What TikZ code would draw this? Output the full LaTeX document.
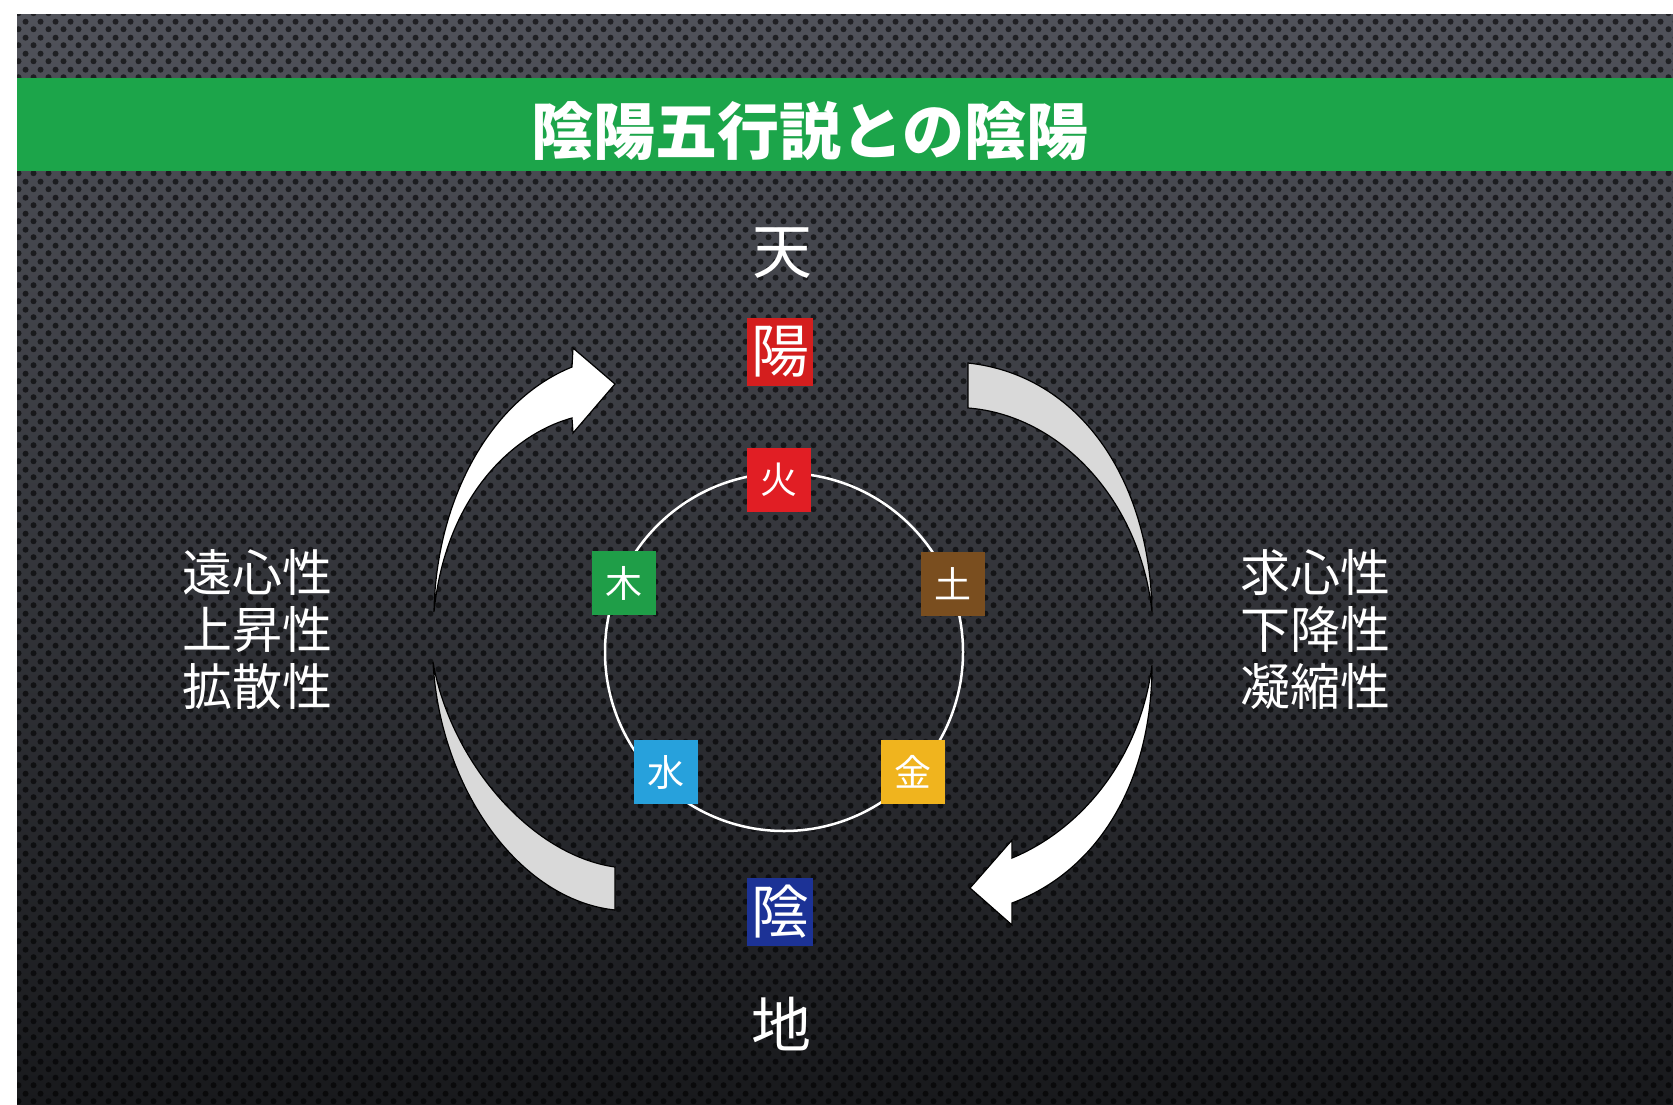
\documentclass[tikz,border=0pt]{standalone}
\usepackage{fontspec}
\newfontfamily\cjk{Noto Sans CJK JP}
\usetikzlibrary{patterns}

\pgfdeclarepatternformonly{metaldots}{\pgfpointorigin}{\pgfpoint{15pt}{16pt}}{\pgfpoint{15pt}{16pt}}{%
  \pgfpathcircle{\pgfpoint{3.75pt}{4pt}}{3.2pt}%
  \pgfpathcircle{\pgfpoint{11.25pt}{12pt}}{3.2pt}%
  \pgfusepath{fill}%
}

\definecolor{bgtop}{HTML}{50525A}
\definecolor{bgmid}{HTML}{383A41}
\definecolor{bgbot}{HTML}{18191C}
\definecolor{bandgreen}{HTML}{1CA54A}
\definecolor{yangred}{HTML}{D41E1E}
\definecolor{firered}{HTML}{E11E24}
\definecolor{woodgreen}{HTML}{1F9E48}
\definecolor{earthbrown}{HTML}{7A4E1F}
\definecolor{waterblue}{HTML}{27A1DC}
\definecolor{metalgold}{HTML}{F0B41E}
\definecolor{yinblue}{HTML}{1C3296}
\definecolor{arcgray}{HTML}{D9D9D9}

\begin{document}
\begin{tikzpicture}[x=1pt,y=-1pt,
  elembox/.style={minimum width=64, minimum height=64, inner sep=0pt, text=white,
    font=\cjk\fontsize{37}{40}\selectfont},
  bigbox/.style={minimum width=66, minimum height=68, inner sep=0pt, text=white,
    font=\cjk\fontsize{58}{62}\selectfont},
  bigchar/.style={inner sep=0pt, text=white, font=\cjk\fontsize{60}{64}\selectfont},
  sidetext/.style={inner sep=0pt, text=white, align=left,
    font=\cjk\fontsize{50}{57}\selectfont},
  brightarrow/.style={fill=white, draw=black, line width=1.2},
  grayarc/.style={fill=arcgray, draw=black, line width=1.2}
]
\useasboundingbox (0,0) rectangle (1673,1104);
\fill[white] (0,0) rectangle (1673,1104);
\shade[top color=bgtop, middle color=bgmid, bottom color=bgbot] (17,14) rectangle (1673,1104);
\fill[pattern=metaldots, pattern color=black, fill opacity=0.6] (17,14) rectangle (1673,1104);

% title band
\fill[bandgreen] (17,78) rectangle (1673,171);
\node[inner sep=0pt, text=white, font=\cjk\bfseries\fontsize{62}{70}\selectfont] (title) at (810,131) {陰陽五行説との陰陽};

% heaven / earth
\node[bigchar] (ten) at (782,253) {天};
\node[bigbox, fill=yangred] (yang) at (780,352) {陽};
\node[bigbox, fill=yinblue] (yin) at (780,912) {陰};
\node[bigchar] (chi) at (781,1024) {地};

% five phases circle
\coordinate (ctr) at (784,652);
\draw[white, line width=2.5] (ctr) circle[radius=179];
\node[elembox, fill=firered] (fire) at (779,480) {火};
\node[elembox, fill=woodgreen] (wood) at (624,583) {木};
\node[elembox, fill=earthbrown] (earth) at (953,584) {土};
\node[elembox, fill=waterblue] (water) at (666,772) {水};
\node[elembox, fill=metalgold] (metal) at (913,772) {金};

% side texts
\node[sidetext] (lefttext) at (257,630) {遠心性\\上昇性\\拡散性};
\node[sidetext] (righttext) at (1315,630) {求心性\\下降性\\凝縮性};

% left upper arrow
\filldraw[brightarrow] (434,612) .. controls (436,500) and (490,400) .. (572,367)
  -- (573,348) -- (615,384) -- (573,433) -- (572,418)
  .. controls (510,435) and (445,500) .. (434,612) -- cycle;
% left lower arc
\filldraw[grayarc] (433,662) .. controls (440,790) and (520,900) .. (615,910)
  -- (615,867) .. controls (530,855) and (450,760) .. (433,662) -- cycle;
% right upper arc
\filldraw[grayarc] (968,363) .. controls (1080,375) and (1150,480) .. (1152,612)
  .. controls (1140,500) and (1060,415) .. (968,408) -- cycle;
% right lower arrow
\filldraw[brightarrow] (1152,665) .. controls (1152,780) and (1100,870) .. (1012,903)
  -- (1012,925) -- (970,888) -- (1012,840) -- (1012,858)
  .. controls (1080,830) and (1140,760) .. (1152,665) -- cycle;
\end{tikzpicture}
\end{document}
